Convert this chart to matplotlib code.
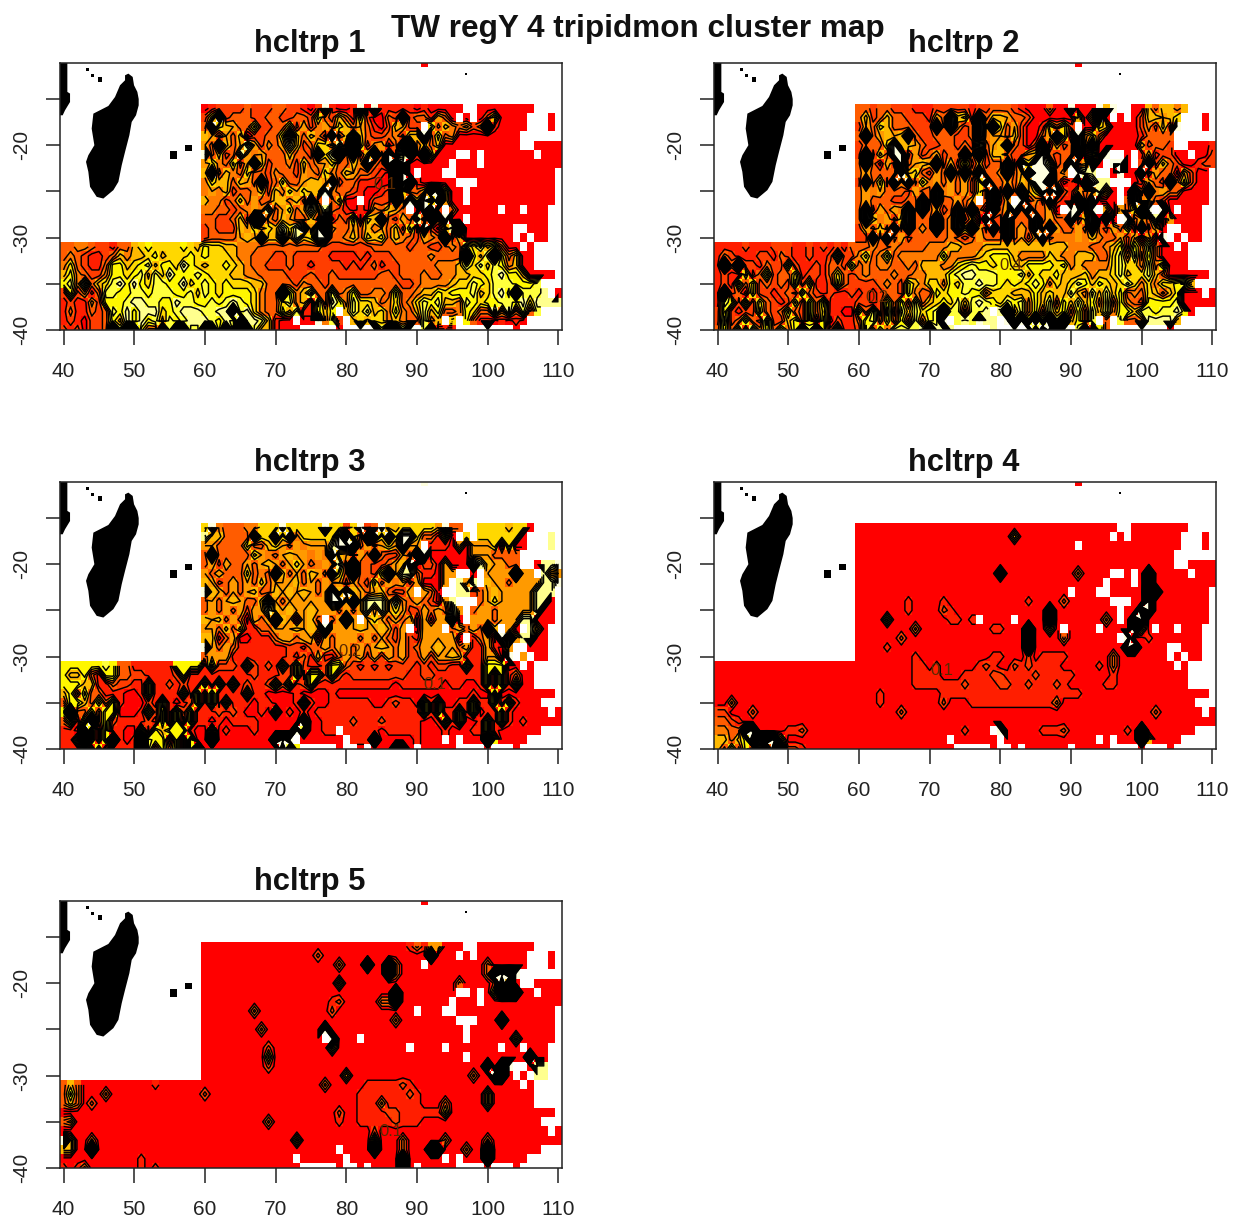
import numpy as np
import matplotlib
matplotlib.use("Agg")
import matplotlib.pyplot as plt
from matplotlib.colors import LinearSegmentedColormap

plt.rcParams['font.family'] = ['Liberation Sans', 'DejaVu Sans']

W, H = 1233, 1219
SUPTITLE = "TW regY 4 tripidmon cluster map"
TITLES = ["hcltrp 1", "hcltrp 2", "hcltrp 3", "hcltrp 4", "hcltrp 5"]
X_TICKS = [40, 50, 60, 70, 80, 90, 100, 110]
Y_TICKS = [-15, -20, -25, -30, -35, -40]
Y_LABELS = {-20: "-20", -30: "-30", -40: "-40"}

# Values are tenths per digit, X and Z are tall spikes. Upper rows: lat -16..-30, lon 60..110.
P1_UP = [
"0122223222 3322102X10 01X0X11111 0100000000 0000000000 0",
"2582333223 3223326325 3162003282 3317300000 2500000000 0",
"3865733622 3362724736 5373102572 2563543423 X100000000 0",
"5727350223 3685354283 5853223425 5X36340000 0000000000 0",
"7385379724 3795236649 3X6247138X 4535000000 0000000000 0",
"8352397473 335332869X 3825X3829X 1X50000000 0000000000 0",
"7643627852 3342534763 3548328X80 0000000000 0000000000 0",
"5835436332 4332743643 5733210X80 1000000000 0000000000 0",
"4655357382 3633755782 3311100X8X 1000000000 0000000000 0",
"4745233452 5467655843 3210012X63 37X8500000 0000000000 0",
"5442353733 5545383535 0000222878 586X700000 0000000000 0",
"4433234749 3763797932 1010435733 08X2930000 0000000000 0",
"3322352X84 3573353813 2606583273 93X3800000 0000000000 0",
"2322257676 5969878X43 3735473526 182059X000 0000000000 0",
"2333375785 5879568833 4536563543 2743X27000 0000000000 0",
]
# Lower rows: lat -31..-40, lon 40..110.
P1_LO = [
"3344322133 5676666765 7665544433 3333333222 2222333332 3322343868 5730000000 0",
"3432112354 5567566676 7666544333 2232222211 1121222333 3343333X75 8X63500000 0",
"4632113775 6785776976 5667654332 2232212222 1212312233 3334445868 6874500000 0",
"5743224776 7858697778 7666554433 3322232232 2222233233 3433445566 7897750000 0",
"7849356897 9768877967 8767666553 3332433233 3333333322 3444456687 68887778X0 0",
"2724138877 8878887786 8767777643 3X74583383 4733443733 4557677785 6897X88899 0",
"1211427778 9988779887 7878987643 3684518397 4866534634 6878554876 7788796999 9",
"1311323879 7999678999 8899X89643 3758117574 5868564743 5857334763 3949383800 0",
"1210223759 7978587899 98798X9985 100000X482 5565664543 3845363731 1010100000 0",
"2120223X8X Z744X8XZ88 XZ7X7XZ855 1000000020 1XZ8X8XZ8X 38X1110000 X700000000 0",
]
P2_UP = [
"3323322211 1222221223 3321000300 X000X5X370 0535545000 0",
"3523533222 1738561835 5733200000 0504800000 2557560000 0",
"2736533322 2838423878 6372001636 2800650000 2425280000 0",
"3837575832 2333223847 7352003786 1846300000 1333330000 0",
"2333685573 2233232937 5832028172 3848000000 7233200000 1",
"2825388272 3723383825 5322758323 3X06080806 1712200000 2",
"3831728375 7827262723 3818688923 X37809X800 2825320012 2",
"3733338563 2738383833 4837X88834 7899900800 8173307200 0",
"2836284836 4737372683 3735788X30 10X8999900 1732836200 0",
"3747333273 3847372638 2838768382 1737970008 3847330000 0",
"3733322338 3833737238 2708242821 1X38000738 4732000000 0",
"3827374838 3723838308 37X3833700 8838070736 X89X000000 0",
"3854725833 3X34827082 2833383733 8258080X83 7390700000 0",
"2735383834 3X34858728 2837384873 3738327361 8270000000 0",
"2283837233 3334323733 3837278344 4745433727 0708000000 0",
]
P2_LO = [
"1111211122 2112121213 3343343333 4445544455 5555555555 4443345727 4830000000 0",
"1321112213 2112112822 4634734444 4474444567 7754444654 4555336848 3730000000 0",
"1X3X221322 7211213326 3434433435 5544678776 7765777767 4544446866 4847000000 0",
"1211613723 3612213632 3433343344 5557899888 7778576675 5564556856 6853000000 0",
"1217362323 2726112732 2223432754 6647688988 7676787465 6875765686 4646678500 0",
"1X23162212 3273212112 1212332743 3767787746 6655575655 8548585734 3653570000 0",
"1872726321 2627371111 2212737383 5676858987 6878475837 5857483743 2777780000 0",
"2721227323 7327361100 7382828586 78X8838897 9X58473857 3738584775 8878897000 0",
"2823732822 5727170211 3783737384 78X8898X99 9X8X7X8X8X 5738736833 4999950000 0",
"3738284737 47X8X72811 2837488889 X999999989 99X8X8XZ8X 18X1732100 X700000000 0",
]
P3_UP = [
"6843334466 6866666X66 2682385566 6667833606 6665660000 0",
"9553333866 8684666668 X63X868688 6331603666 6666600009 0",
"7733336335 6737477798 8X37376787 7211107077 7606000009 0",
"3833333674 3757747485 7273832273 X800000077 7333300000 0",
"3727337375 7376734749 3X33223758 0220700089 5773300099 8",
"7373336343 8537357386 3X33268799 3110779909 7777X77997 7",
"5723737353 7775373747 2732637472 7000799799 5773777799 8",
"8573737533 5757573785 8573753227 3730999923 7577777999 0",
"3737573358 7377777788 7X79997943 7320799993 7677777990 0",
"3737372779 5757757773 7379797672 2737397937 7377777900 0",
"5753730737 X570753737 X757673737 0717780777 7377799000 0",
"7735351133 7775757X77 7757757272 0777737373 8577099700 0",
"5513700111 3773770737 7737373272 1777770713 7088799000 0",
"8737311111 1122133737 7373757372 3775773711 7107370000 0",
"3777111111 1121317113 7372727372 2727757111 7708970000 0",
]
P3_LO = [
"7777778733 1111117777 1722217212 1727211277 3212121222 1212211711 7770000000 0",
"7557317733 2211112711 1111111211 1227177272 1222222221 1221111111 7171300000 0",
"7775511322 1171121211 7171712112 7271271111 1111111011 1111011001 7171700000 0",
"5737331110 0171111717 1711117110 0001000010 0000000000 0000000010 0700000000 0",
"3775373710 0021810127 1717111011 0001810011 1111001211 0717001171 1717100000 0",
"7X33737700 0172717271 1121210010 7010101111 1111111111 1717117170 1171000000 0",
"3717X37211 1121717171 1010111100 0000X00111 1211121111 1001717001 7171010000 0",
"110X717110 0717577710 0701000100 000X800111 1111101111 1000100011 7100000000 0",
"117X717X10 1X87717070 0X00000000 XZX7000000 1111X00000 1000000000 X700000000 0",
"1118171111 1X8373707X 0000000000 0X87000700 0700000XZ0 0000000000 0700000000 0",
]
P4_UP = [
"0000000000 0000000000 0000000000 0000000000 0000000000 0",
"0000000000 0000000000 0070000000 0000000000 0000000000 0",
"0000000000 0000000000 0000000000 0000000000 0000000000 0",
"0000000000 0000000000 0000000000 0000000000 0000000000 0",
"0000000000 0000000000 0000000000 0000000000 0000000000 0",
"0000000000 0000000000 8000000000 0300000000 0X00000000 0",
"0000000000 0000000000 0000000000 0000000000 0Z00000000 0",
"0000000000 0000000000 0000000000 0000000000 0XZ0000000 0",
"0000000100 0010000000 0000100002 0000000000 0Z00000000 0",
"0000000100 0021000000 0000000800 0000000000 XZ00000000 0",
"0000500000 0001101000 0000000Z00 000003000X Z000000000 0",
"0000000030 0000000001 1000X00700 000000000Z 5000000000 0",
"0000002000 0000000000 0000Z00003 00000000X0 0100000000 0",
"0000100000 0000000000 0000X00000 00000000ZX 0000000000 0",
"0000000010 0000000001 1000201111 0000003000 0000000000 0",
]
P4_LO = [
"0000000000 0000000000 0000000011 0100000121 0021211110 0000103000 0000000000 0",
"0000000000 0000000000 0000000011 1100011112 2111121111 1000001000 0000000000 0",
"0000000000 0000000000 0000000011 1111121111 2211211121 0000011000 0000000000 0",
"0000000000 0000000000 0001000000 0011111111 1111111111 1100000000 0000000000 0",
"0030000000 0000000000 0001000000 0020001111 1111111130 0000000000 0000000000 0",
"2200020000 0000000000 0000002000 0000000000 0000000000 0000000000 0020000000 0",
"3321000000 0000000000 0000000000 0000000000 0000000000 0000000000 0000000000 0",
"4433XZ0000 1120000000 0000000000 0000010000 X000001112 0000000010 X000000000 0",
"55357XZXZ5 0000000000 0000000000 0000000000 0000000000 0000000000 Z500000000 0",
"53737373XZ 2210000000 0000000000 0000000000 0000000000 0000000000 0700000000 0",
]
P5_UP = [
"0000000000 0000000000 0000000001 3177000000 0000000000 0",
"0000000000 0000002000 0000000000 00X0000000 0000000000 0",
"0000000000 0000000003 000X00X300 0000000000 3000000000 0",
"0000000000 0000000000 000000Z300 0000000000 3XZXZ00000 0",
"0000000000 0000000005 0000000000 0000003000 02X5000000 0",
"0000000000 0000000000 0000000X00 0000000000 05XZX00000 0",
"0000000000 0000000012 0000033Z00 0000000000 0000000000 0",
"0000000300 0000000020 0000000000 0000000000 0000000000 0",
"0000000000 0000000000 0000000300 0000000000 00X0000000 0",
"0000000030 0000000X00 0000000000 0000000000 0000000000 0",
"0000000000 00000000Z0 0000000000 0000000000 0000500000 0",
"0000000002 0000000050 0000000000 0000000000 0000000000 0",
"0000000005 0000000000 0000000000 0000000000 000000X000 0",
"0000000002 0000000000 0000000000 0000000000 X0XZ000990 0",
"0000000000 0000000000 7000000000 0000000030 0ZX0000999 0",
]
P5_LO = [
"3530000000 0001000000 0000000000 0000000300 0001111121 0000000000 0000000000 0",
"3730003000 0000000000 2000000000 0000000000 0011111112 1000000000 5000000000 0",
"3530200000 0000000000 0000000000 0000000000 0011141111 1000300000 5000000000 0",
"0000000000 0000000000 0000000000 0000000002 0011112211 1111500000 0000000000 0",
"3400000000 0000000000 0000000003 0000000001 0011111211 1000000000 0000000000 0",
"0000000000 0000000000 0000000000 0000000000 0000200000 0000000000 0000000000 0",
"X500300000 0000000000 0000000000 0005000000 0000700030 0000300000 3000000000 0",
"5500X00000 0000000000 0000000000 0000000000 0000X00030 00XZ000300 X000000000 0",
"0000000000 0100000000 0000000000 0000000000 00000000X0 0000000000 Z000000000 0",
"1013000000 0101000000 0000000000 0000000000 00000000Z0 0000000000 0000000000 0",
]
# Upper-row digits that read as orange with dense lines rather than yellow.
UP_VALUES = {"7": 0.45, "8": 1.3}
# Cell at lon 91, lat -11, per panel.
TOP_CELL = [0.0, 0.0, 1.0, 0.0, 0.0]
# Missing cells, lat -> lons.
MISSING = {
 -16: [97, 98, 107, 108, 109, 110], -17: [96, 98, 106, 107, 108, 110],
 -18: [91, 106, 107, 108, 110], -19: [105, 106, 107, 108, 109, 110],
 -20: [105, 106], -21: [96, 97, 99, 107], -22: [95, 99], -23: [90, 94, 95, 110],
 -24: [96, 97, 98, 110], -25: [97, 110], -26: [77, 82, 97, 110],
 -27: [89, 94, 102, 105, 109, 110], -28: [97, 109, 110], -29: [104, 105, 109, 110],
 -30: [104, 106, 109, 110], -31: [105, 107, 108, 109, 110], -32: [107, 108, 109, 110],
 -33: [107, 108, 109, 110], -34: [110], -35: [108, 109, 110], -36: [109], -37: [],
 -38: [79, 108, 109, 110], -39: [73, 80, 94, 96, 106, 107, 108, 109, 110],
 -40: [74, 75, 76, 77, 78, 80, 81, 83, 90, 96, 97, 98, 99, 101, 102, 103, 105, 106, 107, 108, 109, 110],
}
# Coast outlines.
MADA_LON = [49.17, 49.78, 49.97, 50.44, 50.63, 50.63, 50.25, 49.64, 49.31, 48.70, 48.23, 47.76, 47.05, 45.63, 44.69,
            43.75, 43.51, 43.18, 43.51, 44.36, 43.98, 44.22, 46.34, 47.28, 47.99, 48.70, 48.70]
MADA_LAT = [-12.25, -12.61, -13.51, -14.23, -15.0, -15.68, -16.76, -17.48, -18.92, -20.72, -22.16, -23.96, -24.86,
            -25.77, -25.59, -24.50, -22.88, -21.80, -21.08, -20.00, -18.20, -16.58, -15.75, -14.78, -13.51, -12.97, -12.43]
AFR_LON = [39.5, 40.54, 40.54, 40.92, 40.92, 40.21, 39.88, 39.5]
AFR_LAT = [-11.0, -11.0, -14.23, -14.41, -15.32, -16.22, -16.76, -16.76]
ISLE_LON = [55.53, 57.66, 43.42, 44.08, 45.16, 96.9]
ISLE_LAT = [-21.08, -20.29, -11.78, -12.43, -12.90, -12.3]
ISLE_SIZE = [30, 20, 6, 6, 12, 3]
# Contour labels: panel, lon, lat, text.
LABELS = [(0, 85.5, -24.2, "0.1"), (1, 81.5, -33.0, "0.4"), (1, 62.5, -36.5, "0.2"),
          (2, 92.5, -33.0, "0.1"), (2, 80.5, -29.5, "0.2"), (3, 71.8, -31.5, "0.1"), (4, 86.3, -36.0, "0.1")]

PANELS = [(60, 63, P1_UP, P1_LO), (714, 63, P2_UP, P2_LO), (60, 482, P3_UP, P3_LO),
          (714, 482, P4_UP, P4_LO), (60, 901, P5_UP, P5_LO)]
AX_W, AX_H = 502, 267
SPIKE_X, SPIKE_Z = 3.0, 1.8
LEVELS = np.arange(0.05, SPIKE_X, 0.1)

cmap = LinearSegmentedColormap.from_list(
    "heat", [(0, "#FF0000"), (0.75, "#FFFF00"), (1, "#FFFFE0")], N=12)
cmap.set_bad((1, 1, 1, 0))

LONS = np.arange(40, 111)
LATS = np.arange(-11, -41, -1)


def parse(row, table=None):
    out = []
    for c in row.replace(" ", ""):
        if c == "X":
            out.append(SPIKE_X)
        elif c == "Z":
            out.append(SPIKE_Z)
        elif table and c in table:
            out.append(table[c])
        else:
            out.append(int(c) / 10)
    return out


def build(up, lo, top):
    z = np.full((len(LATS), len(LONS)), np.nan)
    z[0, 51] = top
    for i, row in enumerate(up):
        v = parse(row, UP_VALUES)[:51]
        z[5 + i, 20:20 + len(v)] = v
    for i, row in enumerate(lo):
        v = parse(row)[:71]
        z[20 + i, :len(v)] = v
    for lat, lons in MISSING.items():
        for lon in lons:
            z[-11 - lat, lon - 40] = np.nan
    return np.ma.masked_invalid(z)


fig = plt.figure(figsize=(W / 100, H / 100), dpi=100)
fig.patch.set_facecolor("white")
fig.text(638 / W, 1 - 29 / H, SUPTITLE, ha="center", va="center", fontsize=22.7, fontweight="bold", color="#111111")

for k, (px, py, up, lo) in enumerate(PANELS):
    ax = fig.add_axes([px / W, 1 - (py + AX_H) / H, AX_W / W, AX_H / H])
    z = build(up, lo, TOP_CELL[k])
    ax.imshow(np.ma.clip(z, 0, 1), cmap=cmap, vmin=0, vmax=1,
              extent=(39.5, 110.5, -40.5, -10.5), origin="upper", aspect="auto", interpolation="nearest", zorder=1)
    ax.contour(LONS, LATS, z, levels=LEVELS, colors="black", linewidths=1.05, zorder=2)
    ax.fill(AFR_LON, AFR_LAT, color="black", lw=0, zorder=3)
    ax.fill(MADA_LON, MADA_LAT, color="black", lw=0, zorder=3)
    ax.scatter(ISLE_LON, ISLE_LAT, s=ISLE_SIZE, marker="s", color="black", lw=0, zorder=3)
    for pan, lon, lat, txt in LABELS:
        if pan == k:
            ax.text(lon, lat, txt, fontsize=12, color="#5a2a00", ha="center", va="center", zorder=4)
    ax.set_xlim(39.5, 110.5)
    ax.set_ylim(-40, -11.1)
    ax.set_xticks(X_TICKS)
    ax.set_yticks(Y_TICKS)
    ax.set_yticklabels([Y_LABELS.get(t, "") for t in Y_TICKS], rotation=90, va="center")
    ax.tick_params(axis="x", length=11, width=1.1, labelsize=15, pad=12, colors="#222222")
    ax.tick_params(axis="y", length=10, width=1.1, labelsize=15, pad=11, colors="#222222")
    for sp in ax.spines.values():
        sp.set_linewidth(1.1)
        sp.set_color("#222222")
        sp.set_zorder(5)
    fig.text((px + 250) / W, 1 - (py - 19) / H, TITLES[k], ha="center", va="center",
             fontsize=22.2, fontweight="bold", color="#111111")

fig.savefig("out.png", dpi=100)
